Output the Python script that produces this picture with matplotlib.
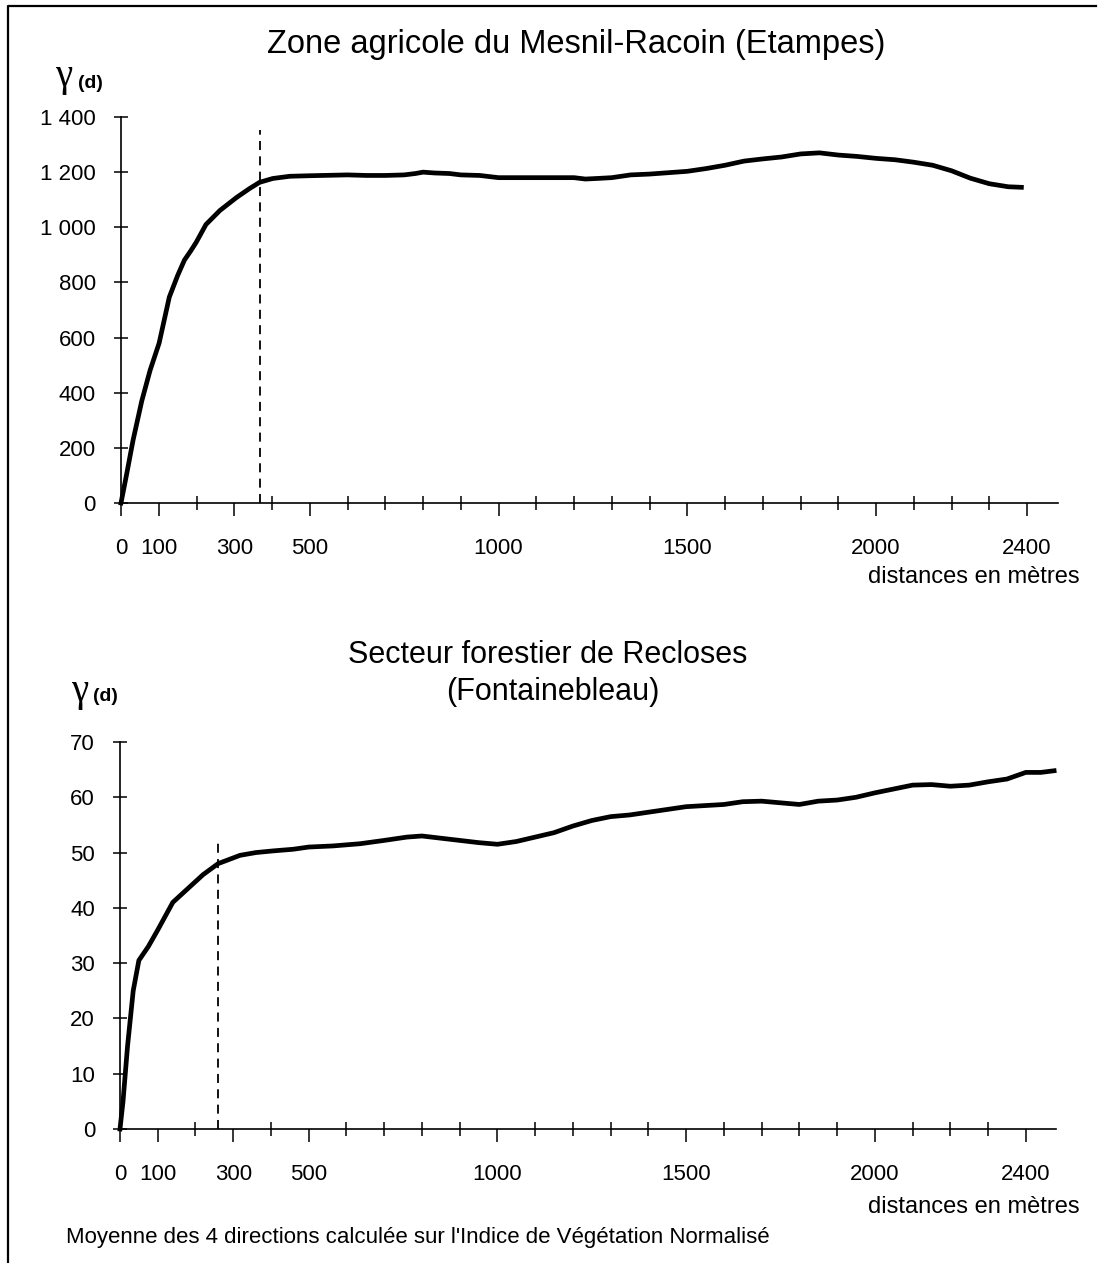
import matplotlib
matplotlib.use('Agg')
import matplotlib.pyplot as plt
from matplotlib.lines import Line2D

plt.rcParams['font.family'] = ['Liberation Sans', 'DejaVu Sans']

# ==============================
# Data
# ==============================
# Zone agricole du Mesnil-Racoin
top_dist = [0, 15, 32, 55, 77, 101, 128, 150, 168, 185, 199, 225, 262, 306, 340, 367, 402, 447,
            500, 600, 650, 700, 750, 780, 800, 830, 870, 900, 950, 1000, 1100, 1200, 1230,
            1260, 1300, 1350, 1400, 1450, 1500, 1550, 1600, 1650, 1700, 1750, 1800, 1850,
            1900, 1950, 2000, 2050, 2100, 2150, 2200, 2250, 2300, 2350, 2385]
top_gamma = [0, 105, 228, 370, 481, 580, 747, 825, 881, 915, 945, 1010, 1061, 1108, 1140, 1163, 1177, 1185,
             1187, 1190, 1188, 1188, 1190, 1195, 1200, 1197, 1195, 1190, 1188, 1180, 1180, 1180, 1175,
             1177, 1180, 1190, 1193, 1198, 1203, 1213, 1225, 1240, 1248, 1255, 1266, 1270,
             1262, 1257, 1250, 1245, 1236, 1225, 1205, 1178, 1158, 1147, 1145]
top_range = 368

# Secteur forestier de Recloses
bot_dist = [0, 8, 20, 35, 50, 75, 100, 140, 180, 220, 260, 318, 360, 405, 459, 500, 564, 636,
            700, 760, 800, 850, 900, 950, 1000, 1050, 1100, 1150, 1200, 1250, 1300, 1350, 1400,
            1450, 1500, 1550, 1600, 1650, 1700, 1750, 1800, 1850, 1900, 1950, 2000, 2050, 2100,
            2150, 2200, 2250, 2300, 2350, 2400, 2440, 2475]
bot_gamma = [0, 5, 15, 25, 30.5, 33, 36, 41, 43.5, 46, 48, 49.5, 50, 50.3, 50.6, 51, 51.2, 51.6,
             52.2, 52.8, 53, 52.6, 52.2, 51.8, 51.5, 52, 52.8, 53.6, 54.8, 55.8, 56.5, 56.8, 57.3,
             57.8, 58.3, 58.5, 58.7, 59.2, 59.3, 59.0, 58.7, 59.3, 59.5, 60, 60.8, 61.5, 62.2,
             62.3, 62, 62.2, 62.8, 63.3, 64.5, 64.5, 64.8]
bot_range = 260

x_labels = [0, 100, 300, 500, 1000, 1500, 2000, 2400]
x_minor = [d for d in range(0, 2401, 100) if d not in x_labels]

top_yticks = [0, 200, 400, 600, 800, 1000, 1200, 1400]
top_ylabels = ['0', '200', '400', '600', '800', '1 000', '1 200', '1 400']
bot_yticks = [0, 10, 20, 30, 40, 50, 60, 70]

W, H = 1099, 1263
fig = plt.figure(figsize=(W / 100, H / 100), dpi=100)


def px_axes(x0, x1, y_top, y_bot):
    return fig.add_axes([x0 / W, 1 - y_bot / H, (x1 - x0) / W, (y_bot - y_top) / H])


def style_axes(ax, xmax, yticks, ylabels, ymax):
    ax.set_xlim(0, xmax)
    ax.set_ylim(0, ymax)
    for s in ['top', 'right']:
        ax.spines[s].set_visible(False)
    for s in ['left', 'bottom']:
        ax.spines[s].set_linewidth(1.2)
    ax.set_xticks(x_labels)
    ax.set_xticklabels([str(v) for v in x_labels])
    ax.set_xticks(x_minor, minor=True)
    ax.tick_params(axis='x', which='major', direction='out', length=9.5, width=1.1,
                   pad=16, labelsize=16)
    ax.tick_params(axis='x', which='minor', direction='inout', length=10, width=1.1)
    ax.set_yticks(yticks)
    ax.set_yticklabels(ylabels)
    ax.tick_params(axis='y', which='major', direction='inout', length=10, width=1.1,
                   pad=13, labelsize=16)


# top panel
ax1 = px_axes(121, 1058, 117, 503)
ax1.plot(top_dist, top_gamma, color='black', lw=3.4, solid_joinstyle='round', clip_on=False)
ax1.vlines(top_range, 0, 1352, colors='black', linestyles=(0, (5, 3.5)), lw=1.3)
style_axes(ax1, 2482, top_yticks, top_ylabels, 1400)

# bottom panel
ax2 = px_axes(120, 1056, 742, 1129)
ax2.plot(bot_dist, bot_gamma, color='black', lw=3.4, solid_joinstyle='round', clip_on=False)
ax2.vlines(bot_range, 0, 52.5, colors='black', linestyles=(0, (5, 3.5)), lw=1.3)
style_axes(ax2, 2480, bot_yticks, [str(v) for v in bot_yticks], 70)

# titles and labels
fig.text(576 / W, 1 - 44 / H, 'Zone agricole du Mesnil-Racoin (Etampes)',
         ha='center', va='center', fontsize=23.5)
fig.text(548 / W, 1 - 655 / H, 'Secteur forestier de Recloses',
         ha='center', va='center', fontsize=22)
fig.text(553 / W, 1 - 692 / H, '(Fontainebleau)',
         ha='center', va='center', fontsize=22)

for gx, gy, dx, dy in [(64, 86, 78, 88), (80, 701, 93, 701)]:
    fig.text(gx / W, 1 - gy / H, 'γ', ha='center', va='baseline', fontsize=28,
             family=['Liberation Serif', 'DejaVu Serif'])
    fig.text(dx / W, 1 - dy / H, '(d)', ha='left', va='baseline', fontsize=14,
             fontweight='bold')

fig.text(1080 / W, 1 - 577 / H, 'distances en mètres', ha='right', va='center', fontsize=17)
fig.text(1080 / W, 1 - 1207 / H, 'distances en mètres', ha='right', va='center', fontsize=17)
fig.text(66 / W, 1 - 1238 / H,
         "Moyenne des 4 directions calculée sur l'Indice de Végétation Normalisé",
         ha='left', va='center', fontsize=16)

# frame around the figure (left and top edges)
fig.add_artist(Line2D([8 / W, 8 / W, 1096 / W], [0, 1 - 6 / H, 1 - 6 / H],
                      transform=fig.transFigure, color='black', lw=1.6))

fig.savefig('out.png', dpi=100)
